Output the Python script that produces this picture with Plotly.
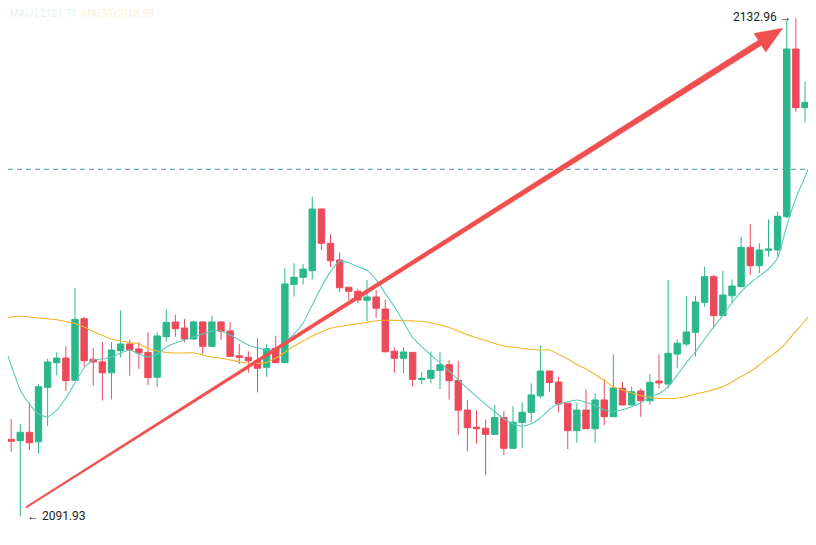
import plotly.graph_objects as go

# ---------------- data ----------------
idx = list(range(90))

open_ = [2100.16, 2098.30, 2098.19, 2098.88, 2098.10, 2102.58, 2104.61, 2104.99, 2103.16, 2108.23,
         2104.89, 2104.67, 2103.78, 2105.60, 2106.15, 2105.74, 2105.46, 2103.41, 2106.75, 2107.96,
         2107.46, 2106.56, 2107.96, 2105.96, 2107.96, 2107.22, 2105.18, 2105.05, 2104.77, 2104.23,
         2105.79, 2104.61, 2111.06, 2111.64, 2112.18, 2117.26, 2114.44, 2113.06, 2110.82, 2110.49,
         2109.74, 2110.02, 2109.03, 2105.55, 2104.97, 2105.46, 2103.22, 2103.32, 2103.98, 2104.44,
         2103.14, 2100.71, 2099.30, 2099.21, 2098.71, 2100.10, 2097.56, 2099.69, 2100.52, 2101.88,
         2103.92, 2103.02, 2101.27, 2099.01, 2100.71, 2099.17, 2101.54, 2100.16, 2102.50, 2101.13,
         2102.28, 2101.48, 2103.10, 2102.85, 2105.32, 2106.15, 2107.11, 2109.58, 2111.69, 2108.48,
         2110.12, 2110.86, 2114.11, 2112.59, 2113.86, 2113.89, 2116.63, 2130.43, 2125.60, 2126.04]
high = [2101.95, 2099.97, 2099.56, 2101.32, 2102.83, 2104.94, 2105.46, 2105.96, 2110.73, 2108.37,
        2105.82, 2106.31, 2106.31, 2108.92, 2106.52, 2106.31, 2107.11, 2107.11, 2109.03, 2108.56,
        2108.21, 2108.07, 2108.00, 2108.48, 2108.00, 2107.96, 2106.15, 2105.55, 2106.62, 2106.12,
        2106.83, 2112.38, 2112.79, 2112.73, 2118.27, 2117.29, 2115.20, 2113.66, 2110.84, 2110.68,
        2111.42, 2110.59, 2109.77, 2105.88, 2105.88, 2105.49, 2103.83, 2105.53, 2105.49, 2104.81,
        2104.77, 2101.54, 2100.69, 2099.93, 2101.13, 2100.62, 2101.03, 2101.36, 2102.91, 2106.04,
        2103.97, 2103.46, 2101.29, 2101.32, 2102.42, 2102.09, 2103.27, 2105.30, 2103.04, 2102.63,
        2102.50, 2103.68, 2105.30, 2111.42, 2106.53, 2110.10, 2110.10, 2112.51, 2111.83, 2112.16,
        2111.47, 2114.98, 2116.03, 2114.44, 2116.41, 2117.04, 2132.76, 2132.96, 2127.74, 2126.65]
low = [2097.01, 2097.28, 2091.93, 2097.42, 2097.15, 2099.40, 2103.57, 2102.28, 2103.10, 2104.28,
       2102.71, 2101.48, 2101.59, 2105.05, 2103.55, 2104.09, 2102.77, 2102.63, 2106.34, 2106.75,
       2106.29, 2106.52, 2105.32, 2105.92, 2106.50, 2105.08, 2104.50, 2103.78, 2102.17, 2103.46,
       2104.58, 2104.58, 2110.04, 2111.06, 2111.47, 2113.89, 2112.46, 2110.43, 2109.77, 2109.52,
       2108.04, 2108.31, 2105.45, 2103.78, 2103.74, 2102.65, 2102.83, 2102.91, 2102.44, 2101.56,
       2098.68, 2097.31, 2097.97, 2095.36, 2098.69, 2097.01, 2097.54, 2097.56, 2099.69, 2101.68,
       2102.22, 2100.52, 2097.50, 2098.02, 2099.16, 2098.02, 2099.48, 2100.14, 2101.10, 2101.10,
       2100.16, 2101.13, 2102.50, 2102.50, 2104.15, 2105.98, 2105.10, 2109.22, 2107.44, 2108.45,
       2109.52, 2110.84, 2111.83, 2111.97, 2113.33, 2113.33, 2116.50, 2125.27, 2124.40, 2123.49]
close = [2098.19, 2098.14, 2098.88, 2098.02, 2102.63, 2104.67, 2104.99, 2103.13, 2108.18, 2104.77,
         2104.67, 2103.78, 2105.65, 2106.15, 2105.65, 2105.41, 2103.39, 2106.81, 2107.93, 2107.41,
         2106.56, 2107.96, 2105.96, 2107.96, 2107.19, 2105.13, 2105.05, 2104.77, 2104.15, 2105.76,
         2104.61, 2111.09, 2111.64, 2112.32, 2117.26, 2114.44, 2113.00, 2110.78, 2110.49, 2109.77,
         2110.02, 2109.09, 2105.51, 2104.97, 2105.49, 2103.24, 2103.32, 2103.98, 2104.44, 2103.13,
         2100.70, 2099.26, 2099.18, 2098.71, 2100.10, 2097.56, 2099.71, 2100.53, 2101.95, 2103.92,
         2102.98, 2101.21, 2099.01, 2100.71, 2099.17, 2101.54, 2100.16, 2102.53, 2101.13, 2102.22,
         2101.48, 2102.99, 2102.94, 2105.38, 2106.21, 2107.14, 2109.60, 2111.69, 2108.48, 2110.18,
         2110.92, 2114.11, 2112.59, 2113.89, 2113.97, 2116.66, 2130.43, 2125.60, 2126.04, 2124.23]

ma_fast = [2106.48, 2104.42, 2102.36, 2101.21, 2100.38, 2100.14, 2100.71, 2101.70, 2102.94, 2104.17,
           2104.83, 2104.91, 2105.08, 2105.41, 2105.65, 2105.32, 2105.08, 2105.32, 2105.90, 2106.23,
           2106.48, 2106.72, 2106.97, 2107.22, 2107.22, 2106.89, 2106.48, 2106.07, 2105.82, 2105.65,
           2105.74, 2106.31, 2106.97, 2107.88, 2109.36, 2110.84, 2112.10, 2112.98, 2112.84, 2112.51,
           2112.21, 2111.44, 2110.32, 2109.22, 2107.98, 2106.67, 2105.93, 2105.24, 2104.61, 2103.92,
           2103.18, 2102.50, 2101.81, 2101.18, 2100.57, 2100.00, 2099.59, 2099.40, 2099.59, 2100.06,
           2100.77, 2101.21, 2101.40, 2101.54, 2101.35, 2101.07, 2100.71, 2100.61, 2100.74, 2100.99,
           2101.29, 2101.81, 2102.06, 2102.63, 2103.60, 2104.61, 2105.51, 2106.56, 2107.55, 2108.51,
           2109.52, 2110.43, 2111.17, 2111.75, 2112.32, 2113.23, 2115.86, 2118.17, 2119.90, 2121.71]
ma_slow = [2108.29, 2108.37, 2108.45, 2108.37, 2108.29, 2108.22, 2108.15, 2108.00, 2107.83, 2107.55,
           2107.18, 2106.85, 2106.56, 2106.39, 2106.26, 2106.15, 2105.78, 2105.57, 2105.45, 2105.41,
           2105.41, 2105.43, 2105.24, 2105.08, 2104.97, 2104.83, 2104.68, 2104.58, 2104.54, 2104.62,
           2104.99, 2105.45, 2105.98, 2106.39, 2106.81, 2107.14, 2107.44, 2107.59, 2107.71, 2107.82,
           2107.94, 2108.06, 2108.10, 2108.09, 2108.07, 2108.05, 2108.02, 2107.89, 2107.71, 2107.50,
           2107.22, 2106.92, 2106.66, 2106.43, 2106.19, 2105.98, 2105.88, 2105.78, 2105.72, 2105.65,
           2105.65, 2105.30, 2104.91, 2104.46, 2104.09, 2103.64, 2103.14, 2102.63, 2102.36, 2102.11,
           2101.91, 2101.74, 2101.66, 2101.66, 2101.68, 2101.83, 2102.03, 2102.20, 2102.40, 2102.62,
           2103.02, 2103.47, 2103.88, 2104.42, 2105.04, 2105.57, 2106.31, 2107.22, 2108.04, 2108.99]

HIGH_IDX, HIGH_VAL = 87, 2132.96
LOW_IDX, LOW_VAL = 2, 2091.93
PRICE_LINE = 2120.53
ARROW_FROM = (2.63, 2092.70)
ARROW_TO = (85.56, 2132.14)
LEGEND_FAST = "MA(7):2121.71"
LEGEND_SLOW = "MA(30):2108.99"

# ---------------- style ----------------
W, H = 816, 545
# the page adds an 8px body margin; ranges are shifted so the view matches the reference
X_RANGE = [0.6575, 90.082]
Y_RANGE = [2088.942, 2133.808]
GREEN = "#2bb78c"
RED = "#eb4a5a"
TEAL = "#5ccabb"
GOLD = "#f2b52c"
ARROW = "#ef4f4f"

fig = go.Figure()
fig.add_trace(go.Candlestick(
    x=idx, open=open_, high=high, low=low, close=close,
    increasing=dict(line=dict(color=GREEN, width=1), fillcolor=GREEN),
    decreasing=dict(line=dict(color=RED, width=1), fillcolor=RED),
    whiskerwidth=0, showlegend=False, hoverinfo="skip"))
fig.add_trace(go.Scatter(x=idx, y=ma_slow, mode="lines",
                         line=dict(color=GOLD, width=1.1, shape="spline", smoothing=0.5),
                         showlegend=False, hoverinfo="skip"))
fig.add_trace(go.Scatter(x=idx, y=ma_fast, mode="lines",
                         line=dict(color=TEAL, width=1.1, shape="spline", smoothing=0.5),
                         showlegend=False, hoverinfo="skip"))


def to_px(x, y):
    px = (x - X_RANGE[0]) / (X_RANGE[1] - X_RANGE[0]) * W
    py = (Y_RANGE[1] - y) / (Y_RANGE[1] - Y_RANGE[0]) * H
    return px, py


def to_data(px, py):
    x = X_RANGE[0] + px / W * (X_RANGE[1] - X_RANGE[0])
    y = Y_RANGE[1] - py / H * (Y_RANGE[1] - Y_RANGE[0])
    return x, y


# tapered arrow polygon built in screen space, converted back to data space
sx, sy = to_px(*ARROW_FROM)
tx, ty = to_px(*ARROW_TO)
dx, dy = tx - sx, ty - sy
L = (dx * dx + dy * dy) ** 0.5
ux, uy = dx / L, dy / L
nx, ny = -uy, ux
head_len, head_half, w0, w1 = 27, 11, 0.8, 3.0
bx, by = tx - head_len * ux, ty - head_len * uy
pts_px = [
    (sx + w0 * nx, sy + w0 * ny),
    (bx + w1 * nx, by + w1 * ny),
    (bx + head_half * nx, by + head_half * ny),
    (tx, ty),
    (bx - head_half * nx, by - head_half * ny),
    (bx - w1 * nx, by - w1 * ny),
    (sx - w0 * nx, sy - w0 * ny),
]
pts = [to_data(px, py) for px, py in pts_px]
path = "M " + " L ".join(f"{x:.4f},{y:.4f}" for x, y in pts) + " Z"

fig.add_shape(type="path", path=path, xref="x", yref="y",
              fillcolor=ARROW, line=dict(color=ARROW, width=0.5), layer="above")

fig.add_shape(type="line", xref="paper", x0=0, x1=1, yref="y", y0=PRICE_LINE, y1=PRICE_LINE,
              line=dict(color="#3f8f93", width=1, dash="5px,4px"), layer="below")

fig.add_annotation(x=HIGH_IDX, y=HIGH_VAL, text=f"{HIGH_VAL:.2f} →", showarrow=False,
                   xanchor="right", yanchor="middle", xshift=-2, yshift=1.5,
                   font=dict(family="Roboto, Arial, sans-serif", size=12, color="#222222"))
fig.add_annotation(x=LOW_IDX, y=LOW_VAL, text=f"← {LOW_VAL:.2f}", showarrow=False,
                   xanchor="left", yanchor="middle", xshift=4.5, yshift=0.5,
                   font=dict(family="Roboto, Arial, sans-serif", size=12, color="#222222"))

# faded legend row at the very top
fig.add_annotation(xref="paper", yref="paper", x=0, y=1, xanchor="left", yanchor="top",
                   xshift=0, yshift=2, text=LEGEND_FAST, showarrow=False, opacity=0.2,
                   font=dict(family="Roboto, Arial, sans-serif", size=10, color=TEAL))
fig.add_annotation(xref="paper", yref="paper", x=0, y=1, xanchor="left", yanchor="top",
                   xshift=72, yshift=2, text=LEGEND_SLOW, showarrow=False, opacity=0.2,
                   font=dict(family="Roboto, Arial, sans-serif", size=10, color=GOLD))

fig.update_layout(
    width=W, height=H, margin=dict(l=0, r=0, t=0, b=0),
    paper_bgcolor="white", plot_bgcolor="white",
    showlegend=False, boxgap=0, boxgroupgap=0.3,
    xaxis=dict(range=X_RANGE, visible=False, showgrid=False, zeroline=False,
               rangeslider=dict(visible=False), fixedrange=True),
    yaxis=dict(range=Y_RANGE, visible=False, showgrid=False, zeroline=False, fixedrange=True),
)

fig.write_html("out.html")
